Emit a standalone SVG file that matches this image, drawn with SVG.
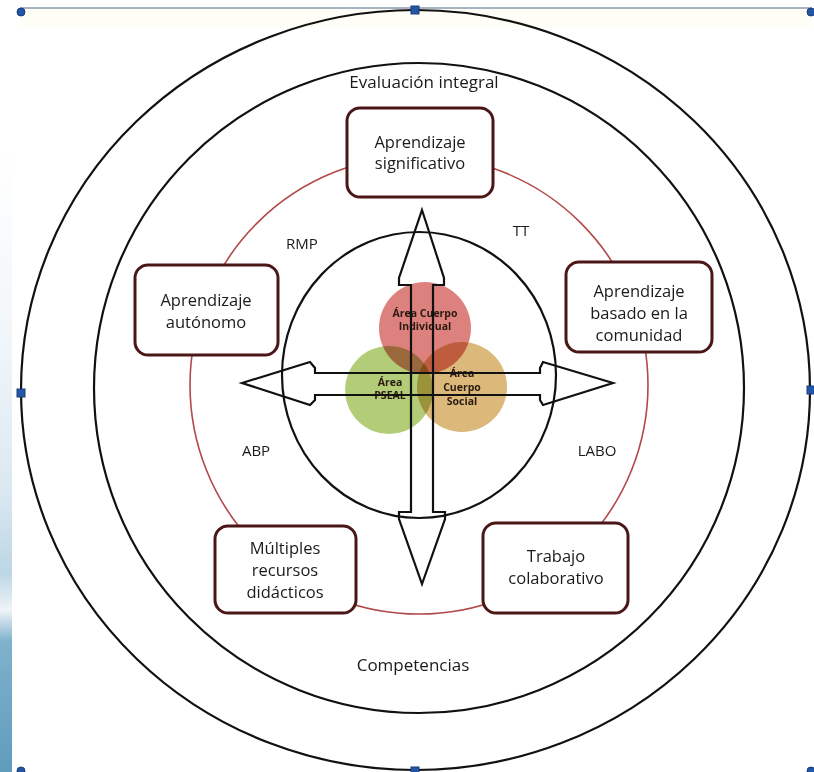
<svg xmlns="http://www.w3.org/2000/svg" width="814" height="772" viewBox="0 0 814 772">
<defs>
<linearGradient id="edge" x1="0" y1="0" x2="0" y2="1">
<stop offset="0" stop-color="#ffffff"/>
<stop offset="0.3" stop-color="#f1f6fa"/>
<stop offset="0.55" stop-color="#dbe8f1"/>
<stop offset="0.68" stop-color="#bcd6e4"/>
<stop offset="0.74" stop-color="#eef4f8"/>
<stop offset="0.79" stop-color="#7fb1cc"/>
<stop offset="1" stop-color="#5f9cbd"/>
</linearGradient>
<style>
.ring{fill:none;stroke:#111;stroke-width:2.2}
.red{fill:none;stroke:#b34848;stroke-width:1.6}
.node{fill:#fff;stroke:#4a1616;stroke-width:3}
.nt{font-family:"Open Sans","Liberation Sans",sans-serif;font-size:16.5px;fill:#1a1a1a;text-anchor:middle}
.lb{font-family:"Open Sans","Liberation Sans",sans-serif;font-size:15px;fill:#1a1a1a;text-anchor:middle}
.big{font-family:"Open Sans","Liberation Sans",sans-serif;font-size:17px;fill:#1a1a1a;text-anchor:middle}
.vt{font-family:"Open Sans","Liberation Sans",sans-serif;font-size:10.5px;font-weight:bold;fill:#2a1a10;text-anchor:middle}
.arrow{fill:none;stroke:#111;stroke-width:2.2;stroke-linejoin:miter}
.h{fill:#2456a8;stroke:#1a3c7a;stroke-width:1}
</style>
</defs>
<rect x="0" y="0" width="814" height="772" fill="#fff"/>
<rect x="0" y="150" width="12" height="622" fill="url(#edge)"/>
<line x1="20" y1="8" x2="812" y2="8" stroke="#8a9aa8" stroke-width="1.5"/>
<rect x="20" y="9" width="792" height="18" fill="#fffdf0" opacity="0.6"/>

<g id="rings">
<ellipse class="ring" cx="415.5" cy="390" rx="394.5" ry="380"/>
<circle class="ring" cx="419" cy="388" r="325"/>
<circle class="red" cx="419" cy="385" r="229"/>
<ellipse class="ring" cx="419" cy="375" rx="137" ry="143"/>
</g>

<g id="venn" style="isolation:isolate">
<circle cx="389" cy="390" r="44" fill="#b3cc78" style="mix-blend-mode:multiply"/>
<circle cx="462" cy="387" r="45" fill="#dcb87a" style="mix-blend-mode:multiply"/>
<circle cx="425" cy="328" r="46" fill="#dd817e" style="mix-blend-mode:multiply"/>
</g>
<g id="venn-labels">
<text class="vt" x="425" y="317">Área Cuerpo</text>
<text class="vt" x="425" y="330">Individual</text>
<text class="vt" x="390" y="386">Área</text>
<text class="vt" x="390" y="399">PSEAL</text>
<text class="vt" x="462" y="377">Área</text>
<text class="vt" x="462" y="391">Cuerpo</text>
<text class="vt" x="462" y="405">Social</text>
</g>

<g id="connectors">
<polygon class="arrow" points="422,210 444,278 444,285 433,285 433,512 445,512 445,519 422,584 399,519 399,512 411,512 411,285 399,285 399,278"/>
<polygon class="arrow" points="242,383 310,362 315,368 315,373 540,373 540,368 543,362 613,383 543,405 540,400 540,395 315,395 315,400 310,405"/>
</g>

<g id="n1"><rect class="node" x="347" y="108" width="146" height="89" rx="13"/>
<text class="nt" x="420" y="148">Aprendizaje</text><text class="nt" x="420" y="169">significativo</text></g>
<g id="n2"><rect class="node" x="135" y="265" width="143" height="90" rx="13"/>
<text class="nt" x="206" y="306">Aprendizaje</text><text class="nt" x="206" y="328">autónomo</text></g>
<g id="n3"><rect class="node" x="566" y="262" width="146" height="90" rx="13"/>
<text class="nt" x="639" y="297">Aprendizaje</text><text class="nt" x="639" y="319">basado en la</text><text class="nt" x="639" y="341">comunidad</text></g>
<g id="n4"><rect class="node" x="215" y="526" width="141" height="87" rx="13"/>
<text class="nt" x="285" y="554">Múltiples</text><text class="nt" x="285" y="576">recursos</text><text class="nt" x="285" y="598">didácticos</text></g>
<g id="n5"><rect class="node" x="483" y="523" width="145" height="90" rx="13"/>
<text class="nt" x="556" y="562">Trabajo</text><text class="nt" x="556" y="584">colaborativo</text></g>

<g id="labels">
<text class="big" x="424" y="88">Evaluación integral</text>
<text class="big" x="413" y="671">Competencias</text>
<text class="lb" x="302" y="249">RMP</text>
<text class="lb" x="521" y="236">TT</text>
<text class="lb" x="256" y="456">ABP</text>
<text class="lb" x="597" y="456">LABO</text>
</g>

<g id="handles">
<circle class="h" cx="21" cy="12" r="4"/>
<rect class="h" x="411" y="6" width="8" height="8"/>
<circle class="h" cx="811" cy="12" r="4"/>
<rect class="h" x="17" y="389" width="8" height="8"/>
<rect class="h" x="807" y="386" width="8" height="8"/>
<circle class="h" cx="21" cy="771" r="4"/>
<rect class="h" x="411" y="767" width="8" height="8"/>
<circle class="h" cx="811" cy="771" r="4"/>
</g>
</svg>
